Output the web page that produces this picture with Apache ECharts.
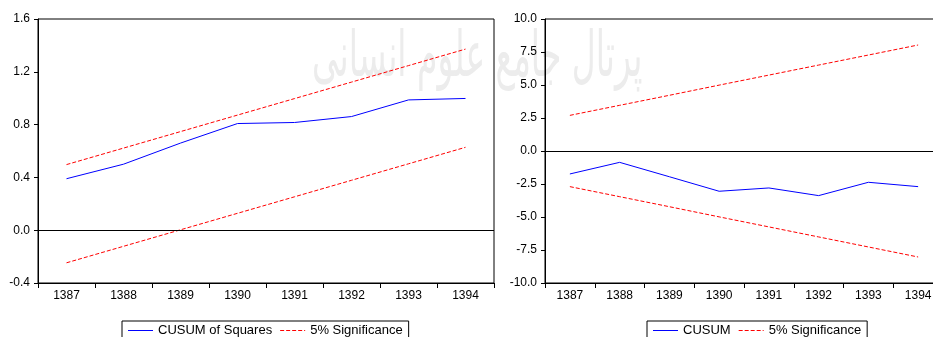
<!DOCTYPE html>
<html>
<head>
<meta charset="utf-8">
<script src="https://cdn.jsdelivr.net/npm/echarts@6/dist/echarts.min.js"></script>
<style>
  html, body { margin: 0; padding: 0; background: #fff; }
  #chart { width: 933px; height: 337px; }
</style>
</head>
<body>
<div id="chart"></div>
<script>
// years on both panels
const years = ['1387', '1388', '1389', '1390', '1391', '1392', '1393', '1394']

// left panel: CUSUM of squares with 5% bounds
const cusumSq = [0.39, 0.50, 0.66, 0.808, 0.816, 0.861, 0.987, 0.998]
const cusumSqUpper = [0.497, 0.622, 0.747, 0.872, 0.997, 1.122, 1.247, 1.372]
const cusumSqLower = [-0.247, -0.122, 0.003, 0.128, 0.253, 0.378, 0.503, 0.628]

// right panel: CUSUM with 5% bounds
const cusum = [-1.74, -0.86, -1.95, -3.05, -2.80, -3.38, -2.37, -2.70]
const cusumUpper = [2.70, 3.46, 4.22, 4.99, 5.75, 6.51, 7.27, 8.03]
const cusumLower = [-2.70, -3.46, -4.22, -4.99, -5.75, -6.51, -7.27, -8.03]

// faint watermark across the top
const watermark = 'پرتال جامع علوم انسانی'

const FONT = '"Liberation Sans", Arial, sans-serif'
const BLUE = '#0000ff'
const RED = '#ff0000'
const DASH = [4, 2]

// legend swatches: a thin solid bar and a thin dashed bar, 25 x 1
const SOLID_ICON = 'path://M0,0H25V1H0Z'
const DASH_ICON = 'path://M0,0H4V1H0Z M6,0H10V1H6Z M12,0H16V1H12Z M18,0H22V1H18Z M24,0H25V1H24Z'

const fmt = v => (Math.abs(v) < 1e-9 ? '0.0' : v.toFixed(1))

function xAxisFor(gridIndex) {
  return {
    type: 'category',
    gridIndex,
    data: years,
    boundaryGap: true,
    axisLine: { onZero: false, lineStyle: { color: '#000', width: 1 } },
    axisTick: { show: true, interval: 0, length: 5, lineStyle: { color: '#000' } },
    axisLabel: { color: '#000', fontSize: 12, fontFamily: FONT, margin: 7, interval: 0 },
    splitLine: { show: false }
  }
}

function yAxisFor(gridIndex, min, max, interval) {
  return {
    type: 'value',
    gridIndex,
    min,
    max,
    interval,
    axisLine: { show: true, onZero: false, lineStyle: { color: '#000', width: 1 } },
    axisTick: { show: true, length: 4, lineStyle: { color: '#000' } },
    axisLabel: { color: '#000', fontSize: 12, fontFamily: FONT, margin: 8, formatter: fmt },
    splitLine: { show: false }
  }
}

const zeroLine = {
  silent: true,
  symbol: 'none',
  label: { show: false },
  lineStyle: { color: '#000', type: 'solid', width: 1 },
  data: [{ yAxis: 0 }]
}

function line(name, data, idx, color, dashed) {
  return {
    name,
    type: 'line',
    xAxisIndex: idx,
    yAxisIndex: idx,
    data,
    color,
    symbol: 'none',
    showSymbol: false,
    lineStyle: { color, width: 1, type: dashed ? DASH : 'solid' },
    itemStyle: { color },
    emphasis: { disabled: true }
  }
}

function legendAt(left, mainName) {
  return {
    left,
    top: 321,
    orient: 'horizontal',
    data: [
      { name: mainName, icon: SOLID_ICON, itemStyle: { color: BLUE } },
      { name: '5% Significance', icon: DASH_ICON, itemStyle: { color: RED } }
    ],
    symbolKeepAspect: false,
    borderColor: '#000',
    borderWidth: 1,
    padding: [3, 6, 6, 6],
    itemGap: 8,
    itemWidth: 25,
    itemHeight: 1,
    textStyle: { color: '#000', fontSize: 13, fontFamily: FONT }
  }
}

const chart = echarts.init(document.getElementById('chart'))

const sqMain = line('CUSUM of Squares', cusumSq, 0, BLUE, false)
sqMain.markLine = zeroLine
const cMain = line('CUSUM', cusum, 1, BLUE, false)
cMain.markLine = zeroLine

chart.setOption({
  animation: false,
  backgroundColor: '#fff',
  textStyle: { fontFamily: FONT },
  graphic: [{
    type: 'text',
    x: 312,
    y: 28,
    scaleY: 1.9,
    z: -1,
    silent: true,
    style: {
      text: watermark,
      fontSize: 33,
      fontFamily: '"DejaVu Sans", sans-serif',
      fill: '#ececec',
      align: 'left',
      verticalAlign: 'top'
    }
  }],
  grid: [
    { left: 38, top: 19, width: 456, height: 264, outerBoundsMode: 'none', show: true, borderColor: '#000', borderWidth: 1, backgroundColor: 'transparent' },
    { left: 545, top: 19, width: 398, height: 264, outerBoundsMode: 'none', show: true, borderColor: '#000', borderWidth: 1, backgroundColor: 'transparent' }
  ],
  xAxis: [xAxisFor(0), xAxisFor(1)],
  yAxis: [yAxisFor(0, -0.4, 1.6, 0.4), yAxisFor(1, -10, 10, 2.5)],
  legend: [
    legendAt(122, 'CUSUM of Squares'),
    legendAt(647, 'CUSUM')
  ],
  series: [
    sqMain,
    line('5% Significance', cusumSqUpper, 0, RED, true),
    line('5% Significance', cusumSqLower, 0, RED, true),
    cMain,
    line('5% Significance', cusumUpper, 1, RED, true),
    line('5% Significance', cusumLower, 1, RED, true)
  ]
})
</script>
</body>
</html>
